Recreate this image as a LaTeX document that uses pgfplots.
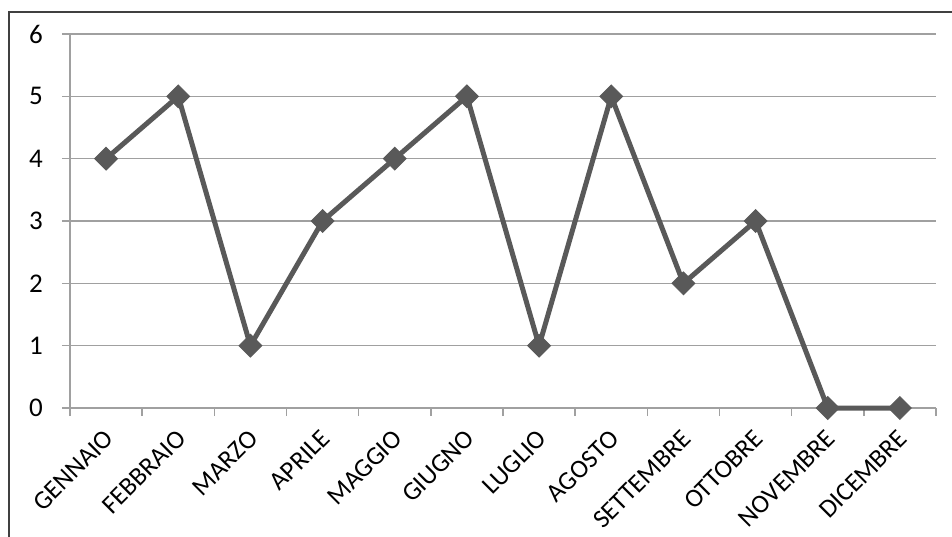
\documentclass[border=0pt]{standalone}
\usepackage{pgfplots}
\pgfplotsset{compat=1.18}
\usepackage{fontspec}
\setmainfont{Carlito}
\definecolor{serie}{HTML}{595959}
\definecolor{griglia}{HTML}{A0A0A0}
\definecolor{cornice}{HTML}{404040}
\begin{document}
\begin{tikzpicture}
\path[use as bounding box] (0,0) rectangle (476pt,268pt);
\draw[cornice, line width=1pt] (4.5pt,-2pt) -- (4.5pt,262pt) -- (480pt,262pt);
\begin{axis}[
  at={(35pt,64pt)}, anchor=south west,
  scale only axis, width=433pt, height=187pt,
  xmin=0.5, xmax=12.5, ymin=0, ymax=6,
  axis lines*=left,
  axis line style={griglia, line width=0.8pt},
  xtick={1,...,12},
  xticklabels={GENNAIO,FEBBRAIO,MARZO,APRILE,MAGGIO,GIUGNO,LUGLIO,AGOSTO,SETTEMBRE,OTTOBRE,NOVEMBRE,DICEMBRE},
  minor xtick={0.5,1.5,...,12.5},
  ytick={0,1,...,6},
  tick align=outside,
  major tick length=4pt, minor tick length=4pt,
  major x tick style={draw=none},
  every tick/.style={griglia, line width=0.8pt},
  ymajorgrids,
  major grid style={griglia, line width=0.8pt},
  tick label style={text=black},
  /pgf/number format/assume math mode=true,
  yticklabel style={font=\fontsize{13.5}{14}\selectfont, xshift=-6pt},
  xticklabel style={font=\fontsize{13}{14}\selectfont, xshift=-1.5pt, yshift=-4.5pt, rotate=45, anchor=north east, inner sep=1pt},
  clip=false,
]
\addplot[serie, line width=2.5pt, mark=square*, mark size=4pt,
  mark options={rotate=45, fill=serie, draw=serie, line width=0.5pt}]
  coordinates {(1,4) (2,5) (3,1) (4,3) (5,4) (6,5) (7,1) (8,5) (9,2) (10,3) (11,0) (12,0)};
\end{axis}
\end{tikzpicture}
\end{document}
